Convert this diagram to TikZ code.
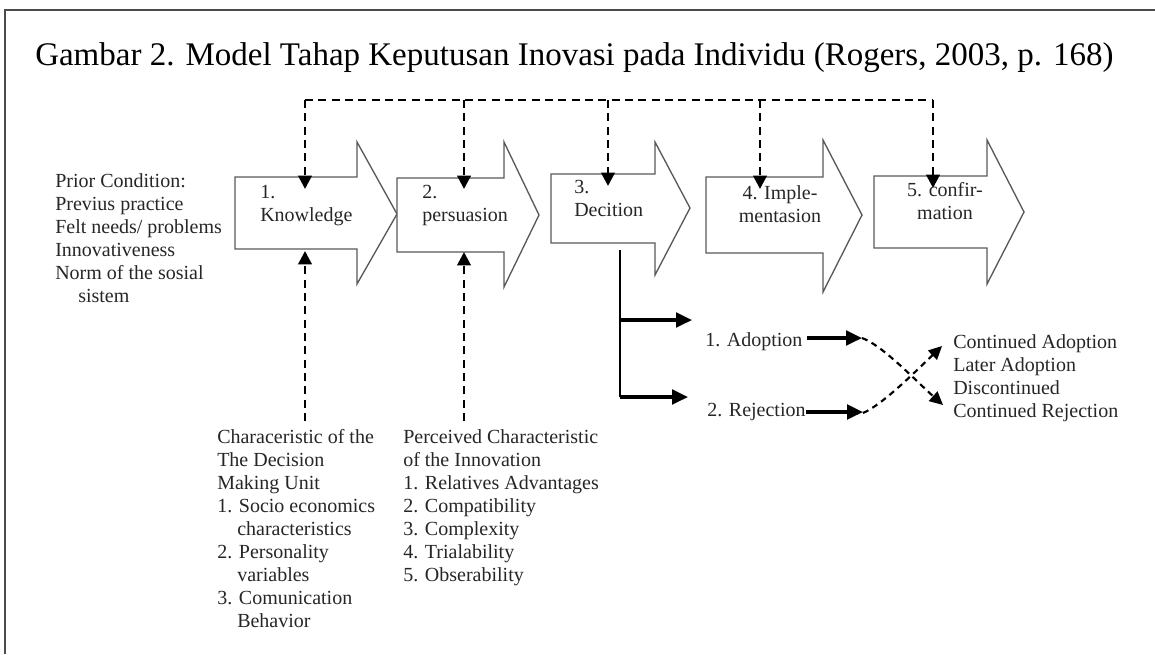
\documentclass[tikz,border=0pt]{standalone}
\usepackage{fontspec}
\setmainfont{Liberation Serif}
\usetikzlibrary{arrows.meta}

\begin{document}
\begin{tikzpicture}[x=0.75pt,y=-0.75pt,>=Stealth,
    stage/.style={draw=black!65,line width=1pt,fill=white},
    feedback/.style={dash pattern=on 6pt off 4pt,line width=2.1pt,-{Triangle[length=10pt,width=10pt]}},
    crossline/.style={dash pattern=on 4.5pt off 3.5pt,line width=1.6pt,-{Triangle[length=10pt,width=9.5pt]}},
    flow/.style={line width=2.4pt,-{Triangle[length=12pt,width=11pt]}},
    txt/.style={inner sep=0pt,align=left,font=\fontsize{15}{17.25}\selectfont,text=black!85}]
      \useasboundingbox (0,0) rectangle (1155,654);
      \draw[black!70,line width=1.1pt] (1155,10) -- (5,10) -- (5,654);
      \node[anchor=base west,inner sep=0pt,font=\fontsize{24.75}{30}\selectfont] (title) at (35,65)
        {Gambar 2. Model Tahap Keputusan Inovasi pada Individu (Rogers, 2003, p. 168)};
      % stages
      \draw[stage] (235,177) -- (357,177) -- (357,142) -- (397,214) -- (357,284) -- (357,249) -- (235,249) -- cycle;
      \draw[stage] (397,178) -- (504,178) -- (504,142) -- (539,215) -- (504,287) -- (504,252) -- (397,252) -- cycle;
      \draw[stage] (551,174) -- (655,174) -- (655,142) -- (690,208) -- (655,275) -- (655,243) -- (551,243) -- cycle;
      \draw[stage] (706,177) -- (823,177) -- (823,140) -- (862,215) -- (823,292) -- (823,253) -- (706,253) -- cycle;
      \draw[stage] (874,176) -- (987,176) -- (987,140) -- (1024,212) -- (987,284) -- (987,248) -- (874,248) -- cycle;
      \node[txt,anchor=north west] (know) at (260,185) {1.\\Knowledge};
      \node[txt,anchor=north west] (pers) at (422,185) {2.\\persuasion};
      \node[txt,anchor=north west] (deci) at (574,180) {3.\\Decition};
      \node[txt,anchor=north,align=center] (impl) at (780,185) {4. Imple-\\mentasion};
      \node[txt,anchor=north,align=center] (conf) at (945,182) {5. confir-\\mation};
      % feedback line on top
      \coordinate (fb-a) at (305,100);
      \coordinate (fb-b) at (464,100);
      \coordinate (fb-c) at (608,100);
      \coordinate (fb-d) at (760,100);
      \coordinate (fb-e) at (933,100);
      \coordinate (know-in) at (305,189);
      \coordinate (pers-in) at (464,189);
      \coordinate (deci-in) at (608,186);
      \coordinate (impl-in) at (760,189);
      \coordinate (conf-in) at (933,188);
      \draw[feedback,-] (fb-a) -- (fb-e);
      \draw[feedback] (fb-a) -- (know-in);
      \draw[feedback] (fb-b) -- (pers-in);
      \draw[feedback] (fb-c) -- (deci-in);
      \draw[feedback] (fb-d) -- (impl-in);
      \draw[feedback] (fb-e) -- (conf-in);
      % conditions
      \node[txt,anchor=north west] (prior) at (55,173)
        {Prior Condition:\\Previus practice\\Felt needs/ problems\\Innovativeness\\Norm of the sosial\\\hspace*{1.15em}sistem};
      \node[txt,anchor=north west] (unit) at (217,429)
        {Characeristic of the\\The Decision\\Making Unit\\1. Socio economics\\\hspace*{1em}characteristics\\2. Personality\\\hspace*{1em}variables\\3. Comunication\\\hspace*{1em}Behavior};
      \node[txt,anchor=north west] (innov) at (403,429)
        {Perceived Characteristic\\of the Innovation\\1. Relatives Advantages\\2. Compatibility\\3. Complexity\\4. Trialability\\5. Obserability};
      \coordinate (unit-up) at (305,421);
      \coordinate (know-out) at (305,251);
      \coordinate (innov-up) at (464,421);
      \coordinate (pers-out) at (464,252);
      \draw[feedback] (unit-up) -- (know-out);
      \draw[feedback] (innov-up) -- (pers-out);
      % decision branches
      \coordinate (deci-out) at (620,250);
      \coordinate (br-a) at (620,320);
      \coordinate (br-b) at (620,397);
      \coordinate (br-a-end) at (692,320);
      \coordinate (br-b-end) at (688,397);
      \draw[line width=1.1pt] (deci-out) -- (br-b);
      \draw[flow] (br-a) -- (br-a-end);
      \draw[flow] (br-b) -- (br-b-end);
      \node[txt,anchor=west] (adopt) at (705,342) {1. Adoption};
      \node[txt,anchor=west] (reject) at (707,412) {2. Rejection};
      \coordinate (adopt-a) at (807,338);
      \coordinate (adopt-b) at (862,338);
      \coordinate (reject-b) at (863,413);
      \draw[flow] (adopt-a) -- (adopt-b);
      \draw[flow] (reject.east) -- (reject.east -| reject-b);
      \node[txt,anchor=north west] (outcome) at (953,334)
        {Continued Adoption\\Later Adoption\\Discontinued\\Continued Rejection};
      \coordinate (out-a) at (942,346);
      \coordinate (out-b) at (943,405);
      \draw[crossline] (adopt-b) .. controls (882,345) and (915,380) .. (out-b);
      \draw[crossline] (reject-b) .. controls (882,405) and (915,372) .. (out-a);
    \end{tikzpicture}
\end{document}
